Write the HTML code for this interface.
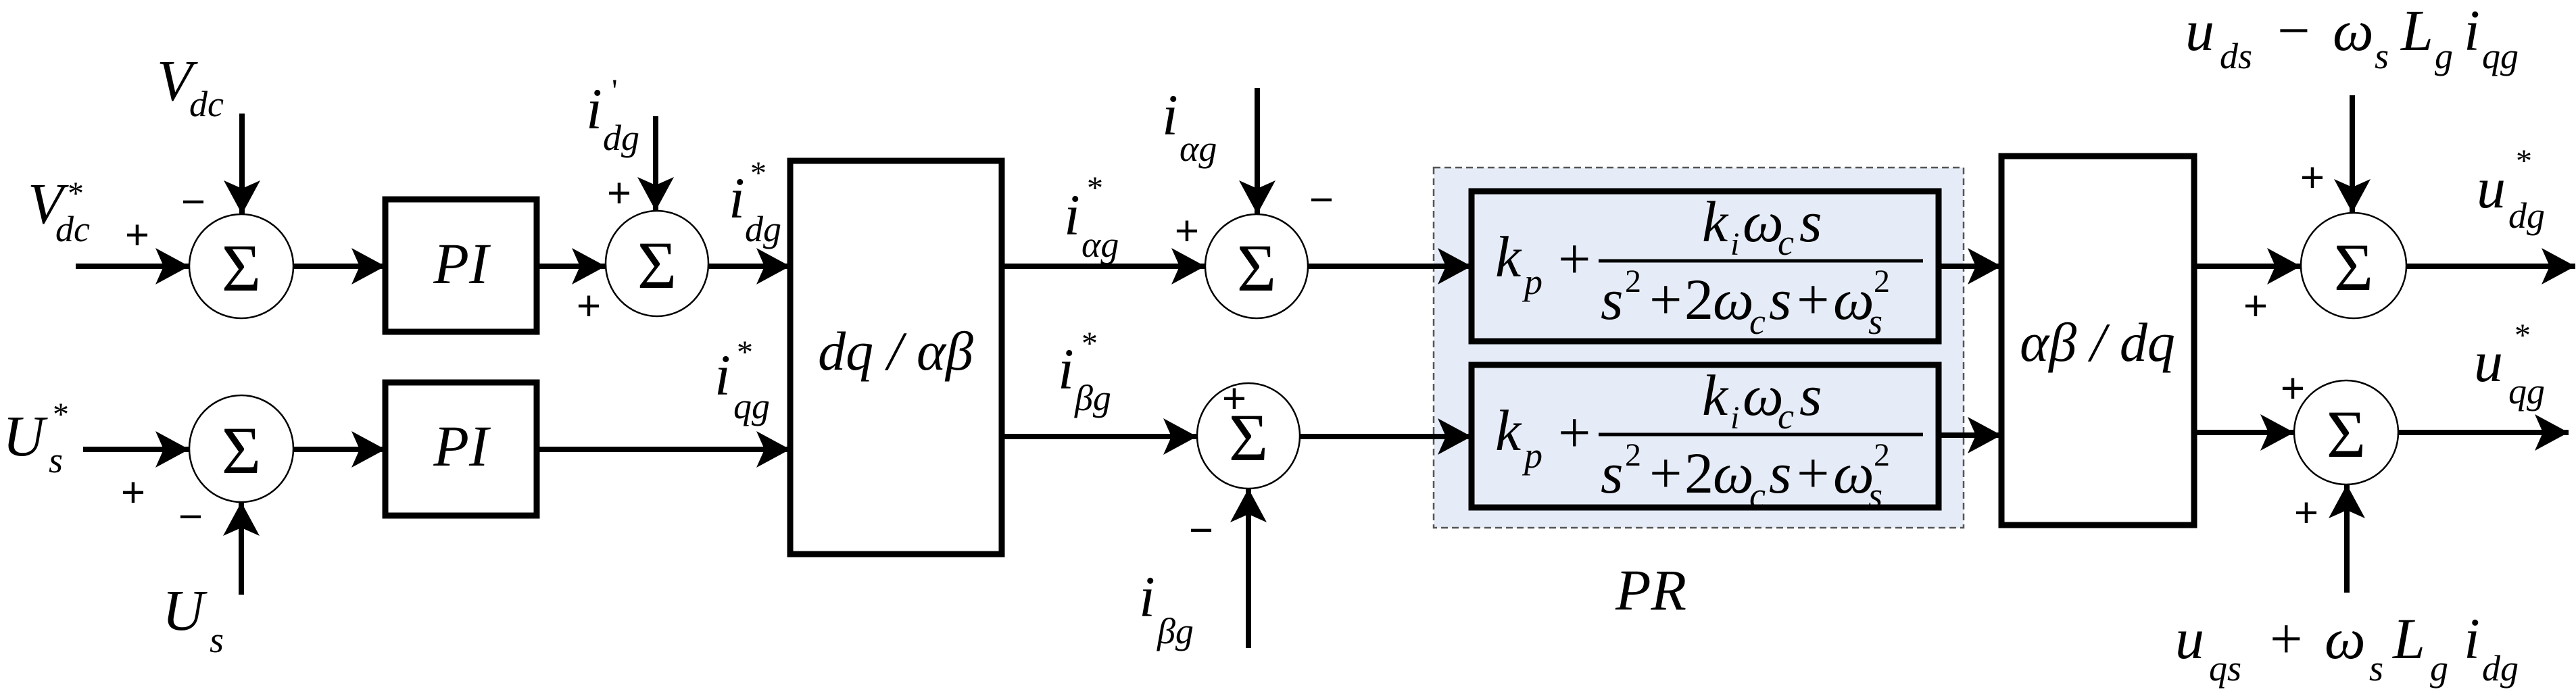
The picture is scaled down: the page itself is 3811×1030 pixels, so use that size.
<!DOCTYPE html>
<html><head><meta charset="utf-8"><style>
html,body{margin:0;padding:0;background:#fff;}
svg{display:block;}
svg text{font-family:"Liberation Serif","DejaVu Serif","Times New Roman",serif;}
.t text{font-style:italic;}
.t text.n{font-style:normal;}
.pm{font-family:"Liberation Sans","DejaVu Sans",sans-serif !important;font-size:62px;text-anchor:middle;dominant-baseline:central;font-style:normal;}
</style></head><body>
<svg width="3811" height="1030" viewBox="0 0 3811 1030" xmlns="http://www.w3.org/2000/svg">
<defs>
<marker id="a" markerUnits="userSpaceOnUse" markerWidth="60" markerHeight="60" refX="50" refY="27" orient="auto">
<path d="M0,0 L50,27 L0,54 L12,27 z" fill="#000"/>
</marker>
</defs>
<rect x="2121" y="248" width="784" height="533" fill="#e6ecf7" stroke="#555" stroke-width="2.5" stroke-dasharray="10,6"/>
<g fill="none" stroke="#000" stroke-width="9">
<rect x="570" y="295" width="224" height="196" fill="#fff"/>
<rect x="570" y="566" width="224" height="197" fill="#fff"/>
<rect x="1169" y="238" width="313" height="582" fill="#fff"/>
<rect x="2177" y="283" width="691" height="222" fill="#e6ecf7"/>
<rect x="2177" y="540" width="691" height="211" fill="#e6ecf7"/>
<rect x="2961" y="231" width="285" height="546" fill="#fff"/>
</g>
<g fill="#fff" stroke="#000" stroke-width="2.5">
<ellipse cx="357" cy="394" rx="77" ry="77"/>
<ellipse cx="972" cy="390" rx="76" ry="78"/>
<ellipse cx="357" cy="664" rx="77" ry="79"/>
<ellipse cx="1859" cy="394" rx="76" ry="77"/>
<ellipse cx="1847" cy="645" rx="76" ry="78"/>
<ellipse cx="3482" cy="393" rx="78" ry="78"/>
<ellipse cx="3471" cy="640" rx="77" ry="77"/>
</g>
<g font-size="100" text-anchor="middle">
<text x="357" y="430">Σ</text>
<text x="972" y="426">Σ</text>
<text x="357" y="700">Σ</text>
<text x="1859" y="430">Σ</text>
<text x="1847" y="681">Σ</text>
<text x="3482" y="429">Σ</text>
<text x="3471" y="676">Σ</text>
</g>
<g stroke="#000" stroke-width="8" fill="none" marker-end="url(#a)">
<line x1="112" y1="394" x2="280" y2="394"/>
<line x1="358" y1="168" x2="358" y2="317"/>
<line x1="434" y1="394" x2="570" y2="394"/>
<line x1="794" y1="394" x2="896" y2="394"/>
<line x1="970" y1="172" x2="970" y2="312"/>
<line x1="1049" y1="394" x2="1169" y2="394"/>
<line x1="1482" y1="394" x2="1783" y2="394"/>
<line x1="1860" y1="130" x2="1860" y2="317"/>
<line x1="1936" y1="394" x2="2177" y2="394"/>
<line x1="2868" y1="394" x2="2961" y2="394"/>
<line x1="3246" y1="394" x2="3404" y2="394"/>
<line x1="3480" y1="141" x2="3480" y2="315"/>
<line x1="3560" y1="394" x2="3810" y2="394"/>
<line x1="123" y1="665" x2="280" y2="665"/>
<line x1="357" y1="880" x2="357" y2="743"/>
<line x1="434" y1="665" x2="570" y2="665"/>
<line x1="794" y1="665" x2="1169" y2="665"/>
<line x1="1482" y1="646" x2="1771" y2="646"/>
<line x1="1847" y1="959" x2="1847" y2="723"/>
<line x1="1923" y1="646" x2="2177" y2="646"/>
<line x1="2868" y1="644" x2="2961" y2="644"/>
<line x1="3246" y1="640" x2="3394" y2="640"/>
<line x1="3472" y1="877" x2="3472" y2="717"/>
<line x1="3548" y1="640" x2="3800" y2="640"/>
</g>
<text class="pm" x="203" y="348">+</text>
<text class="pm" x="286" y="299">−</text>
<text class="pm" x="916" y="286">+</text>
<text class="pm" x="871" y="453">+</text>
<text class="pm" x="197" y="729">+</text>
<text class="pm" x="282" y="765">−</text>
<text class="pm" x="1756" y="342">+</text>
<text class="pm" x="1955" y="296">−</text>
<text class="pm" x="1826" y="590">+</text>
<text class="pm" x="1777" y="785">−</text>
<text class="pm" x="3421" y="263">+</text>
<text class="pm" x="3337" y="453">+</text>
<text class="pm" x="3392" y="575">+</text>
<text class="pm" x="3412" y="759">+</text>
<g class="t">
<text x="232" y="148" font-size="86">V</text><text x="280" y="172" font-size="54">dc</text>
<text x="41" y="330" font-size="86">V</text><text x="82" y="357" font-size="54">dc</text><text x="100" y="302" font-size="48" class="n">*</text>
<text x="867" y="190" font-size="86">i</text><text x="905" y="150" font-size="48" class="n">'</text><text x="892" y="222" font-size="54">dg</text>
<text x="1078" y="322" font-size="86">i</text><text x="1110" y="272" font-size="48" class="n">*</text><text x="1102" y="357" font-size="54">dg</text>
<text x="1057" y="584" font-size="86">i</text><text x="1090" y="537" font-size="48" class="n">*</text><text x="1085" y="619" font-size="54">qg</text>
<text x="4" y="674" font-size="86">U</text><text x="72" y="699" font-size="54">s</text><text x="78" y="629" font-size="48" class="n">*</text>
<text x="240" y="932" font-size="86">U</text><text x="310" y="965" font-size="54">s</text>
<text x="682" y="419" font-size="86" text-anchor="middle">PI</text>
<text x="682" y="689" font-size="86" text-anchor="middle">PI</text>
<text x="1325" y="547" font-size="82" text-anchor="middle">dq / αβ</text>
<text x="1574" y="347" font-size="86">i</text><text x="1608" y="294" font-size="48" class="n">*</text><text x="1600" y="380" font-size="54">αg</text>
<text x="1719" y="199" font-size="86">i</text><text x="1745" y="238" font-size="54">αg</text>
<text x="1565" y="575" font-size="86">i</text><text x="1600" y="524" font-size="48" class="n">*</text><text x="1590" y="607" font-size="54">βg</text>
<text x="1685" y="912" font-size="86">i</text><text x="1712" y="952" font-size="54">βg</text>
<text x="2390" y="902" font-size="86">PR</text>
<text x="3103" y="534" font-size="82" text-anchor="middle">αβ / dq</text>
<text x="2212" y="409" font-size="86">k</text><text x="2255" y="435" font-size="54">p</text>
<text x="2305" y="412" font-size="86" class="n">+</text>
<text x="2518" y="357" font-size="86">k</text><text x="2560" y="377" font-size="48">i</text><text x="2578" y="357" font-size="86">ω</text><text x="2630" y="377" font-size="54">c</text><text x="2662" y="357" font-size="86">s</text>
<text x="2368" y="472" font-size="86">s</text><text x="2404" y="432" font-size="48" class="n">2</text><text x="2440" y="472" font-size="86" class="n">+</text><text x="2492" y="472" font-size="86" class="n">2</text><text x="2534" y="472" font-size="86">ω</text><text x="2588" y="494" font-size="54">c</text><text x="2617" y="472" font-size="86">s</text><text x="2658" y="472" font-size="86" class="n">+</text><text x="2712" y="472" font-size="86">ω</text><text x="2764" y="494" font-size="54">s</text><text x="2772" y="432" font-size="48" class="n">2</text>
<text x="2212" y="666" font-size="86">k</text><text x="2255" y="692" font-size="54">p</text>
<text x="2305" y="669" font-size="86" class="n">+</text>
<text x="2518" y="614" font-size="86">k</text><text x="2560" y="634" font-size="48">i</text><text x="2578" y="614" font-size="86">ω</text><text x="2630" y="634" font-size="54">c</text><text x="2662" y="614" font-size="86">s</text>
<text x="2368" y="729" font-size="86">s</text><text x="2404" y="689" font-size="48" class="n">2</text><text x="2440" y="729" font-size="86" class="n">+</text><text x="2492" y="729" font-size="86" class="n">2</text><text x="2534" y="729" font-size="86">ω</text><text x="2588" y="751" font-size="54">c</text><text x="2617" y="729" font-size="86">s</text><text x="2658" y="729" font-size="86" class="n">+</text><text x="2712" y="729" font-size="86">ω</text><text x="2764" y="751" font-size="54">s</text><text x="2772" y="689" font-size="48" class="n">2</text>
<text x="3233" y="74" font-size="86">u</text><text x="3284" y="101" font-size="54">ds</text><text x="3369" y="74" font-size="86" class="n">−</text><text x="3451" y="74" font-size="86">ω</text><text x="3513" y="101" font-size="54">s</text><text x="3552" y="74" font-size="86">L</text><text x="3602" y="101" font-size="54">g</text><text x="3645" y="74" font-size="86">i</text><text x="3672" y="101" font-size="54">qg</text>
<text x="3218" y="974" font-size="86">u</text><text x="3268" y="1007" font-size="54">qs</text><text x="3358" y="974" font-size="86" class="n">+</text><text x="3439" y="974" font-size="86">ω</text><text x="3505" y="1007" font-size="54">s</text><text x="3540" y="974" font-size="86">L</text><text x="3595" y="1007" font-size="54">g</text><text x="3645" y="974" font-size="86">i</text><text x="3672" y="1007" font-size="54">dg</text>
<text x="3664" y="307" font-size="86">u</text><text x="3722" y="254" font-size="48" class="n">*</text><text x="3711" y="337" font-size="54">dg</text>
<text x="3660" y="564" font-size="86">u</text><text x="3720" y="512" font-size="48" class="n">*</text><text x="3711" y="597" font-size="54">qg</text>
</g>
<g stroke="#000" stroke-width="5">
<line x1="2365" y1="386" x2="2845" y2="386"/>
<line x1="2365" y1="643" x2="2845" y2="643"/>
</g>
</svg>
</body></html>
